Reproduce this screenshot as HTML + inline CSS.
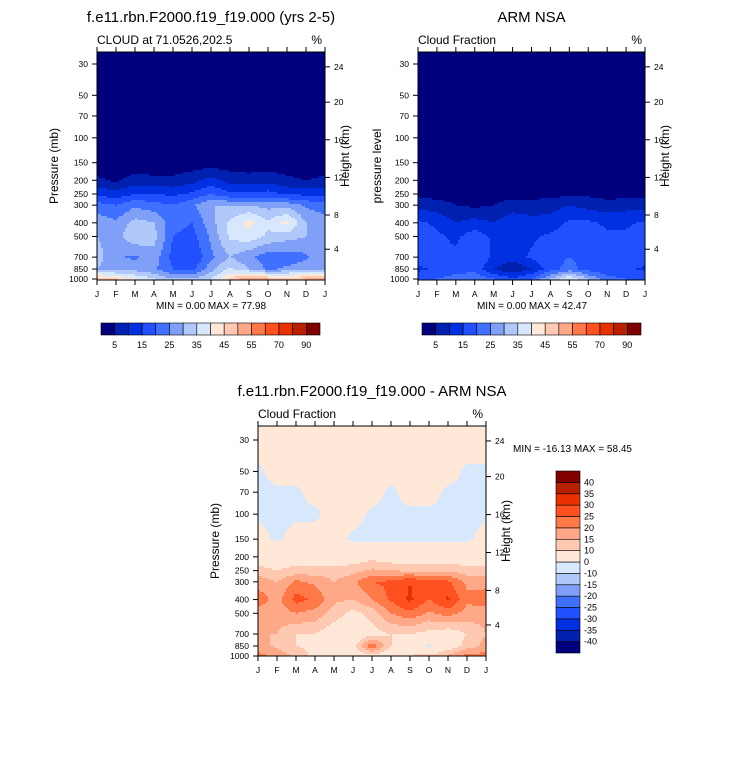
<!DOCTYPE html>
<html><head><meta charset="utf-8"><style>
body{margin:0;background:#fff;}
svg{display:block;font-family:"Liberation Sans",sans-serif;}
</style></head><body>
<svg id="s" width="733" height="766" viewBox="0 0 733 766"></svg>
<script>
const months=["J","F","M","A","M","J","J","A","S","O","N","D","J"];
const levels=[30,50,70,100,150,200,250,300,400,500,700,850,1000];
const pTicks=[30,50,70,100,150,200,250,300,400,500,700,850,1000];
const hTicks=[24,20,16,12,8,4];
const hTickY=[0.065,0.22,0.385,0.55,0.715,0.865];
const modelVals=[
[1,1,1,1,1,1,1,1,1,1,1,1,1],
[1,1,1,1,1,1,1,1,1,1,1,1,1],
[1,1,1,1,1,1,1,1,1,1,1,1,1],
[1,1,1,1,1,1,1,1,1,1,1,1,1],
[2,2,2,2,2,2,2,2,2,2,2,2,2],
[6,4,7,6,6,8,12,8,7,8,6,5,6],
[14,12,15,15,14,16,20,16,16,17,14,14,14],
[22,20,24,22,20,24,30,30,30,28,28,24,22],
[28,26,32,30,22,20,28,36,42,36,42,30,28],
[30,28,34,32,20,18,26,36,38,34,32,30,30],
[32,26,24,28,18,15,24,30,26,22,22,24,30],
[30,28,28,26,20,18,28,36,30,24,26,28,30],
[48,45,40,35,30,30,35,45,55,50,48,50,52]];
const obsVals=[
[1,1,1,1,1,1,1,1,1,1,1,1,1],
[1,1,1,1,1,1,1,1,1,1,1,1,1],
[1,1,1,1,1,1,1,1,1,1,1,1,1],
[1,1,1,1,1,1,1,1,1,1,1,1,1],
[1,1,1,1,1,1,1,1,1,1,1,1,1],
[2,2,2,2,2,2,2,2,2,2,2,2,2],
[4,3,3,3,3,3,3,3,4,4,3,3,4],
[8,7,5,4,5,7,7,8,10,8,7,8,8],
[16,14,10,12,10,14,12,12,16,16,14,14,16],
[18,16,14,18,14,12,14,16,18,18,16,16,18],
[18,16,16,20,14,12,16,18,20,18,18,18,18],
[14,16,18,18,10,6,10,18,22,18,16,16,14],
[18,20,22,24,20,16,20,30,40,30,22,20,18]];
const diffVals=[
[3,3,3,3,3,3,3,3,3,3,3,3,3],
[-1,2,2,2,2,2,2,2,2,2,2,-1,-1],
[-1,-1,-1,2,2,2,2,-1,2,2,-1,-1,-1],
[-1,-1,-1,-1,2,2,-1,-1,-1,-1,-1,-1,-1],
[2,-1,2,2,2,-1,-1,-1,-1,-1,-1,-1,2],
[6,6,6,6,6,6,8,6,6,6,6,6,6],
[12,10,12,12,12,13,16,15,14,14,14,12,12],
[18,15,21,19,15,19,25,26,30,26,26,19,18],
[23,18,27,24,16,15,20,26,31,25,31,21,23],
[17,17,20,18,13,8,12,20,24,19,22,18,17],
[15,15,10,10,6,4,8,10,10,8,6,10,15],
[17,14,10,8,6,8,24,10,8,-2,6,12,17],
[22,18,14,8,4,6,8,4,10,12,16,22,22]];
const absLevels=[5,10,15,20,25,30,35,40,45,50,55,60,70,80,90];
const absColors=["#00007f","#0020b0","#0030e0","#2050ff","#4070ff","#80a0f8","#b0c8fa","#d8e8fc","#ffe8d8","#ffc8b0","#ffa888","#ff7848","#ff5020","#e83000","#b82000","#800000"];
const absLabels=["5","15","25","35","45","55","70","90"];
const diffLevels=[-40,-35,-30,-25,-20,-15,-10,0,10,15,20,25,30,35,40];
const diffColors=["#00007f","#0020b0","#0030e0","#2050ff","#4070ff","#80a0f8","#b0c8fa","#d8e8fc","#ffe8d8","#ffc8b0","#ffa888","#ff7848","#ff5020","#e83000","#b82000","#800000"];
const diffLabels=["-40","-35","-30","-25","-20","-15","-10","0","10","15","20","25","30","35","40"];

const S=document.getElementById('s');
const NS="http://www.w3.org/2000/svg";
function mk(tag,attrs,parent){const e=document.createElementNS(NS,tag);for(const k in attrs)e.setAttribute(k,attrs[k]);(parent||S).appendChild(e);return e;}
function txt(x,y,t,size,anchor,parent,rot){const e=mk('text',{x:x,y:y,'font-size':size,'text-anchor':anchor||'start',fill:'#000'},parent);if(rot)e.setAttribute('transform','rotate(-90 '+x+' '+y+')');e.textContent=t;return e;}
function colorFor(v,lv,cols){let i=0;while(i<lv.length&&v>=lv[i])i++;return cols[i];}

function panel(P){
  const g=mk('g',{});
  
  
  const x0=P.x,y0=P.y,W=P.w,H=P.h;
  const yAt30=P.y30,yAt1000=P.y1000;
  const yScale=p=>yAt30+(Math.log(p/30)/Math.log(1000/30))*(yAt1000-yAt30);
  const pFromY=y=>30*Math.exp((y-yAt30)/(yAt1000-yAt30)*Math.log(1000/30));
  const xScale=m=>x0+m/(months.length-1)*W;
  const field=mk('g',{},g);
  
  
  const step=2;
  const lp=levels.map(p=>Math.log(p));
  for(let y=y0;y<y0+H;y+=step){
    let p=pFromY(y+step/2);p=Math.max(30,Math.min(1000,p));
    const l=Math.log(p);let j=0;while(j<lp.length-2&&l>lp[j+1])j++;
    const t=(l-lp[j])/(lp[j+1]-lp[j]);
    let runStart=x0,runCol=null;
    const xs=[];for(let x=x0;x<x0+W;x+=step)xs.push(x);xs.push(x0+W);
    xs.forEach((x,idx)=>{
      let c=null;
      if(idx<xs.length-1){
        const m=Math.min(months.length-1,(x+step/2-x0)/W*(months.length-1));
        const i=Math.min(months.length-2,Math.floor(m));const u=m-i;
        const v=(1-t)*((1-u)*P.data[j][i]+u*P.data[j][i+1])+t*((1-u)*P.data[j+1][i]+u*P.data[j+1][i+1]);
        c=colorFor(v,P.lv,P.cols);
      }
      if(c!==runCol){
        if(runCol){const r=mk('rect',{x:runStart,y:y,width:x-runStart+0.5,height:Math.min(step,y0+H-y)+0.5,fill:runCol},field);
          
          }
        runStart=x;runCol=c;
      }
    });
  }
  mk('rect',{x:x0,y:y0,width:W,height:H,fill:'none',stroke:'#000','stroke-width':1},g);
  pTicks.forEach(p=>{const y=yScale(p);mk('line',{x1:x0-5,x2:x0,y1:y,y2:y,stroke:'#000'},g);
    const t=txt(x0-9,y+3,String(p),8.5,'end',g);});
  hTicks.forEach((h,k)=>{const y=y0+hTickY[k]*H;mk('line',{x1:x0+W,x2:x0+W+5,y1:y,y2:y,stroke:'#000'},g);
    const t=txt(x0+W+9,y+3,String(h),8.5,'start',g);});
  months.forEach((m,i)=>{const x=xScale(i);mk('line',{x1:x,x2:x,y1:y0+H,y2:y0+H+5,stroke:'#000'},g);mk('line',{x1:x,x2:x,y1:y0,y2:y0-5,stroke:'#000'},g);
    const t=txt(x,y0+H+17,m,8.5,'middle',g);});
  let t=txt(x0+W/2,y0-30,P.title,15,'middle',g);
  t=txt(x0,y0-8,P.sub,12,'start',g);
  t=txt(x0+W-3,y0-8,'%',12,'end',g);
  t=txt(P.ylx,y0+H/2,P.ylabel,12,'middle',g,true);
  t=txt(x0+W+24,y0+H/2-10,'Height (km)',12,'middle',g,true);
  return g;
}
panel({name:'model-panel',x:97,y:52,w:228,h:228,y30:64,y1000:279,data:modelVals,lv:absLevels,cols:absColors,title:'f.e11.rbn.F2000.f19_f19.000 (yrs 2-5)',sub:'CLOUD at 71.0526,202.5',ylabel:'Pressure (mb)',ylx:58});
panel({name:'obs-panel',x:418,y:52,w:227,h:228,y30:64,y1000:279,data:obsVals,lv:absLevels,cols:absColors,title:'ARM NSA',sub:'Cloud Fraction',ylabel:'pressure level',ylx:381});
panel({name:'diff-panel',x:258,y:426,w:228,h:230,y30:440,y1000:656,data:diffVals,lv:diffLevels,cols:diffColors,title:'f.e11.rbn.F2000.f19_f19.000 - ARM NSA',sub:'Cloud Fraction',ylabel:'Pressure (mb)',ylx:219});

let t=txt(211,309,'MIN =   0.00 MAX =  77.98',10,'middle');
t=txt(532,309,'MIN =   0.00 MAX =  42.47',10,'middle');
t=txt(513,452,'MIN = -16.13 MAX =  58.45',10,'start');

function hbar(x,name){
  const g=mk('g',{});
  const bw=219/absColors.length;
  absColors.forEach((c,i)=>{const r=mk('rect',{x:x+i*bw,y:323,width:bw,height:12,fill:c,stroke:'#000','stroke-width':0.6},g);
    });
  absLabels.forEach((l,k)=>{const tt=txt(x+(2*k+1)*bw,348,l,9,'middle',g);});
}
hbar(101,'model-colorbar');hbar(422,'obs-colorbar');
(function(){
  const g=mk('g',{});
  const n=diffColors.length,bh=182/n,top=471;
  diffColors.forEach((c,i)=>{const r=mk('rect',{x:556,y:top+(n-1-i)*bh,width:24,height:bh,fill:c,stroke:'#000','stroke-width':0.6},g);
    });
  diffLabels.forEach((l,k)=>{const y=top+(n-1-k)*bh;const tt=txt(584,y+3,l,9,'start',g);});
})();
</script>
</body></html>
